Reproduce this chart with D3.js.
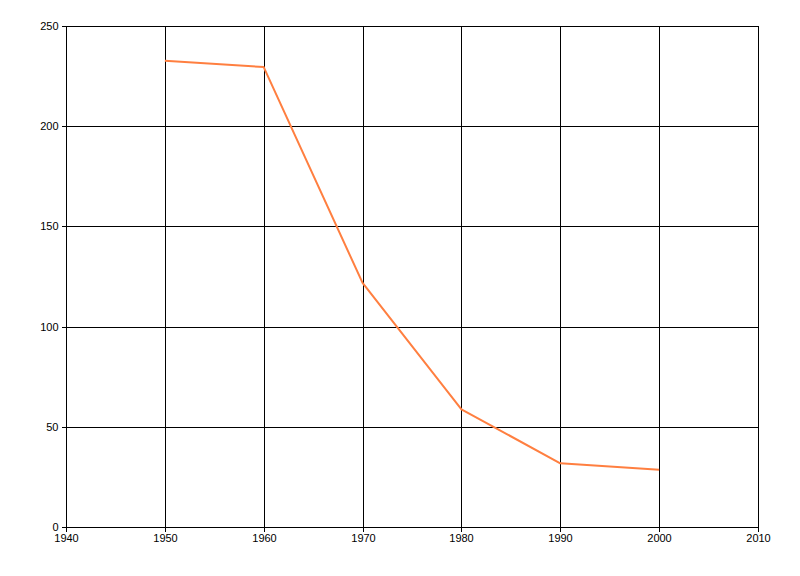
<!DOCTYPE html>
<html><head><meta charset="utf-8">
<script src="https://cdn.jsdelivr.net/npm/d3@7"></script>
<style>body{margin:0;background:#fff}svg{display:block}</style>
</head><body>
<script>
const years = [1950, 1960, 1970, 1980, 1990, 2000];
const values = [232.6, 229.5, 121.8, 58.7, 31.8, 28.6];
const xTicks = [1940, 1950, 1960, 1970, 1980, 1990, 2000, 2010];
const yTicks = [0, 50, 100, 150, 200, 250];

const W = 800, H = 576;
const svg = d3.select("body").append("svg").attr("width", W).attr("height", H);
const x = d3.scaleLinear().domain([1940, 2010]).range([66, 758]);
const y = d3.scaleLinear().domain([0, 250]).range([527, 26]);
const px = v => Math.round(v) + 0.5;

const g = svg.append("g").attr("shape-rendering", "crispEdges");
g.selectAll(".vg").data(xTicks.slice(1)).join("line")
  .attr("x1", d => px(x(d))).attr("x2", d => px(x(d)))
  .attr("y1", px(y(250))).attr("y2", px(y(0))).attr("stroke", "#000");
g.selectAll(".hg").data(yTicks.slice(1)).join("line")
  .attr("x1", px(x(1940))).attr("x2", px(x(2010)))
  .attr("y1", d => px(y(d))).attr("y2", d => px(y(d))).attr("stroke", "#000");

const xAxis = svg.append("g").attr("transform", `translate(0,${px(y(0))})`)
  .call(d3.axisBottom(x).tickValues(xTicks).tickFormat(d3.format("d")).tickSizeInner(4).tickSizeOuter(0).tickPadding(3).offset(0));
xAxis.selectAll(".tick").attr("transform", d => `translate(${px(x(d))},0)`);
const yAxis = svg.append("g").attr("transform", `translate(${px(x(1940))},0)`)
  .call(d3.axisLeft(y).tickValues(yTicks).tickSizeInner(5).tickSizeOuter(0).tickPadding(3).offset(0));
yAxis.selectAll(".tick").attr("transform", d => `translate(0,${px(y(d))})`);
[xAxis, yAxis].forEach(a => {
  a.selectAll("path, line").attr("stroke", "#000").attr("shape-rendering", "crispEdges");
  a.selectAll("text").attr("fill", "#000").style("font-family", "'Liberation Sans', Arial, sans-serif").style("font-size", "11px");
});

const line = d3.line().x((d, i) => x(years[i])).y(d => y(d));
svg.append("path").datum(values).attr("d", line)
  .attr("fill", "none").attr("stroke", "#ff7f40").attr("stroke-width", 2).attr("stroke-linejoin", "round");
</script>
</body></html>
